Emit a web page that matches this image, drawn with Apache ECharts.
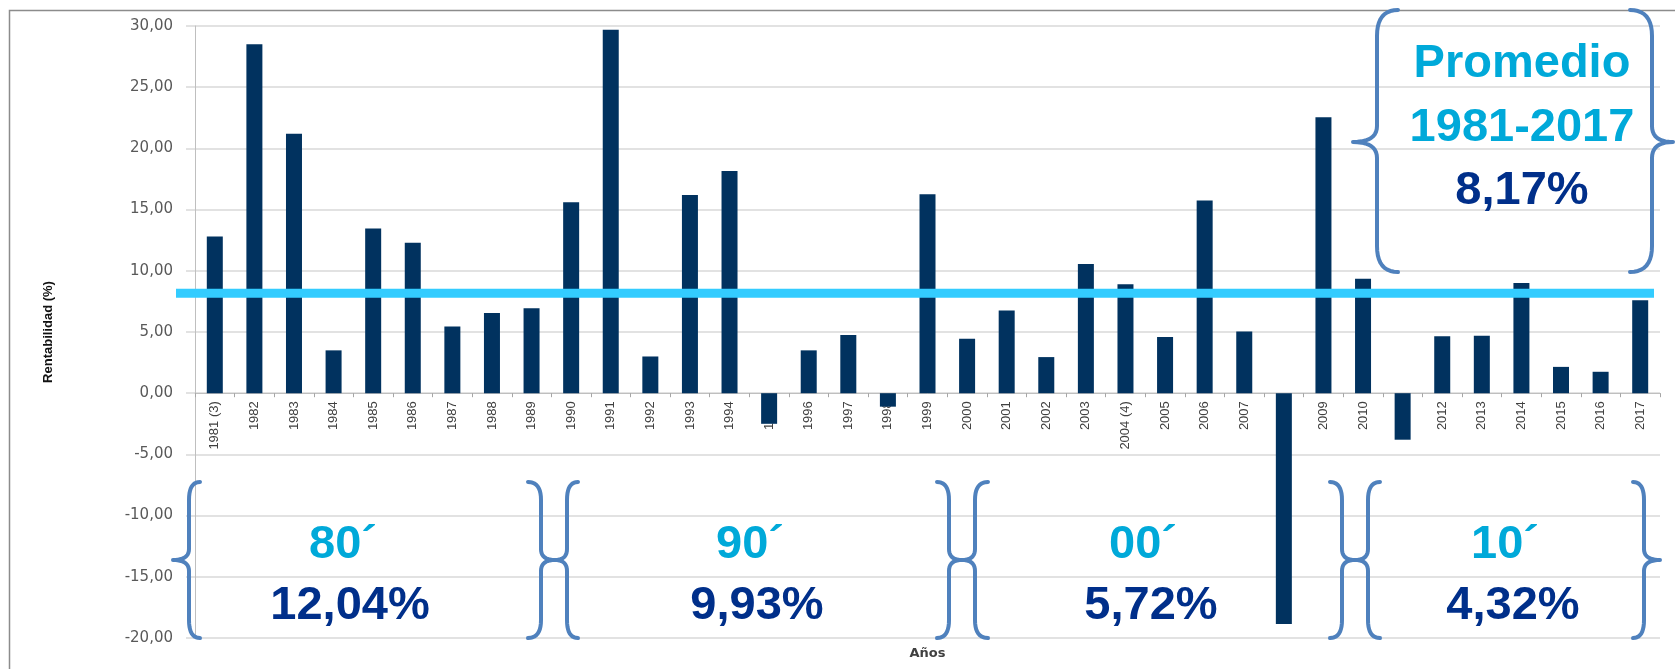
<!DOCTYPE html>
<html><head><meta charset="utf-8">
<script src="https://cdn.jsdelivr.net/npm/echarts@6/dist/echarts.min.js"></script>
<style>html,body{margin:0;padding:0;background:#fff}#c{width:1675px;height:669px}</style>
</head><body><div id="c"></div>
<script>
// ---- data ----
const categories = ['1981 (3)','1982','1983','1984','1985','1986','1987','1988','1989','1990',
  '1991','1992','1993','1994','1995','1996','1997','1998','1999','2000',
  '2001','2002','2003','2004 (4)','2005','2006','2007','2008','2009','2010',
  '2011','2012','2013','2014','2015','2016','2017'];
const returns = [12.8, 28.5, 21.2, 3.5, 13.45, 12.3, 5.45, 6.55, 6.95, 15.6,
  29.7, 3.0, 16.2, 18.15, -2.5, 3.5, 4.75, -1.1, 16.25, 4.45,
  6.75, 2.95, 10.55, 8.9, 4.6, 15.75, 5.05, -18.85, 22.55, 9.35,
  -3.8, 4.65, 4.7, 9.0, 2.15, 1.75, 7.6];
const yTicks = {min: -20, max: 30, interval: 5};
const decadeLabels = ['80´', '90´', '00´', '10´'];
const decadeAverages = ['12,04%', '9,93%', '5,72%', '4,32%'];
const overallTitle = ['Promedio', '1981-2017'];
const overallAverage = 8.17;

// ---- chart ----
const fmt = v => v.toFixed(2).replace('.', ',');
const chart = echarts.init(document.getElementById('c'), null, {renderer: 'canvas'});
chart.setOption({
  animation: false,
  backgroundColor: '#ffffff',
  grid: {left: 195, right: 15, top: 26, bottom: 31, outerBoundsMode: 'none', containLabel: false},
  xAxis: {
    type: 'category', data: categories, position: 'bottom',
    name: 'Años', nameLocation: 'middle', nameGap: 254,
    nameTextStyle: {fontFamily: 'DejaVu Sans', fontWeight: 'bold', fontSize: 13, color: '#404040'},
    axisLine: {onZero: false, lineStyle: {color: '#bfbfbf', width: 1}},
    axisTick: {show: true, length: 4, lineStyle: {color: '#a6a6a6'}},
    axisLabel: {rotate: 90, interval: 0, margin: 8, fontFamily: 'Liberation Sans Narrow, Liberation Sans, sans-serif',
      fontSize: 13, color: '#404040'}
  },
  yAxis: {
    type: 'value', min: yTicks.min, max: yTicks.max, interval: yTicks.interval,
    name: 'Rentabilidad (%)', nameLocation: 'middle', nameGap: 140, nameRotate: 90,
    nameTextStyle: {fontFamily: 'Liberation Sans Narrow, Liberation Sans, sans-serif', fontWeight: 'bold', fontSize: 13, color: '#111111'},
    axisLine: {show: true, lineStyle: {color: '#bfbfbf', width: 1}},
    axisTick: {show: true, length: 9, lineStyle: {color: '#d9d9d9', width: 1.5}},
    splitLine: {show: true, lineStyle: {color: '#d9d9d9', width: 1.5}},
    axisLabel: {formatter: fmt, margin: 22, fontFamily: 'DejaVu Sans', fontSize: 15, color: '#595959'}
  },
  series: [{type: 'bar', data: returns, barWidth: 16, itemStyle: {color: '#01325f'}}]
});

// place the category axis on the zero line of the value axis
const yZero = chart.convertToPixel({yAxisIndex: 0}, 0);
const yBottom = chart.convertToPixel({yAxisIndex: 0}, yTicks.min);
chart.setOption({xAxis: {offset: yZero - yBottom}});

// ---- annotations ----
const yAvg = chart.convertToPixel({yAxisIndex: 0}, overallAverage);
function quad(pts, p0, c, p1) {
  for (let i = 1; i <= 10; i++) {
    const t = i / 10, u = 1 - t;
    pts.push([u * u * p0[0] + 2 * u * t * c[0] + t * t * p1[0], u * u * p0[1] + 2 * u * t * c[1] + t * t * p1[1]]);
  }
}
function brace(xEnd, xBody, xTip, yTop, yMid, yBot, rEnd, rMid) {
  const pts = [[xEnd, yTop]];
  quad(pts, [xEnd, yTop], [xBody, yTop], [xBody, yTop + rEnd]);
  pts.push([xBody, yMid - rMid]);
  quad(pts, [xBody, yMid - rMid], [xBody, yMid], [xTip, yMid]);
  quad(pts, [xTip, yMid], [xBody, yMid], [xBody, yMid + rMid]);
  pts.push([xBody, yBot - rEnd]);
  quad(pts, [xBody, yBot - rEnd], [xBody, yBot], [xEnd, yBot]);
  return pts;
}
const braceStyle = {stroke: '#4f81bd', lineWidth: 4, fill: null, lineCap: 'round', lineJoin: 'round'};
const bT = 482, bM = 560, bB = 638;
const braces = [
  brace(200, 189, 173, bT, bM, bB, 18, 11),
  brace(528, 541, 555, bT, bM, bB, 18, 11),
  brace(578, 567, 555, bT, bM, bB, 18, 11),
  brace(937, 949, 962, bT, bM, bB, 18, 11),
  brace(988, 975, 962, bT, bM, bB, 18, 11),
  brace(1330, 1342, 1355, bT, bM, bB, 18, 11),
  brace(1380, 1368, 1355, bT, bM, bB, 18, 11),
  brace(1633, 1644, 1660, bT, bM, bB, 18, 11),
  brace(1398, 1377, 1353, 10, 142, 272, 26, 16),
  brace(1630, 1652, 1673, 10, 142, 272, 26, 16)
];
const cyan = '#00a9d9', navy = '#002f8a';
const bigFont = 'bold 47px Liberation Sans, Arial, sans-serif';
function txt(s, x, y, color) {
  return {type: 'text', x: x, y: y, z: 120,
    style: {text: s, fill: color, font: bigFont, align: 'center', verticalAlign: 'middle'}};
}
const decadeX = [[343, 350], [750, 757], [1143, 1151], [1505, 1513]];
const graphics = [
  {type: 'rect', z: -10, shape: {x: 9.5, y: 10.5, width: 1700, height: 700},
    style: {stroke: '#8c8c8c', lineWidth: 1.5, fill: null}},
  {type: 'line', z: 100, shape: {x1: 176, y1: yAvg, x2: 1654, y2: yAvg},
    style: {stroke: '#33ccff', lineWidth: 9}}
];
braces.forEach(p => graphics.push({type: 'polyline', z: 110, shape: {points: p}, style: braceStyle}));
decadeLabels.forEach((d, i) => {
  graphics.push(txt(d, decadeX[i][0], 545, cyan));
  graphics.push(txt(decadeAverages[i], decadeX[i][1], 606, navy));
});
graphics.push(txt(overallTitle[0], 1522, 64, cyan));
graphics.push(txt(overallTitle[1], 1522, 128, cyan));
graphics.push(txt(fmt(overallAverage) + '%', 1522, 191, navy));
chart.setOption({graphic: {elements: graphics}});
</script>
</body></html>
